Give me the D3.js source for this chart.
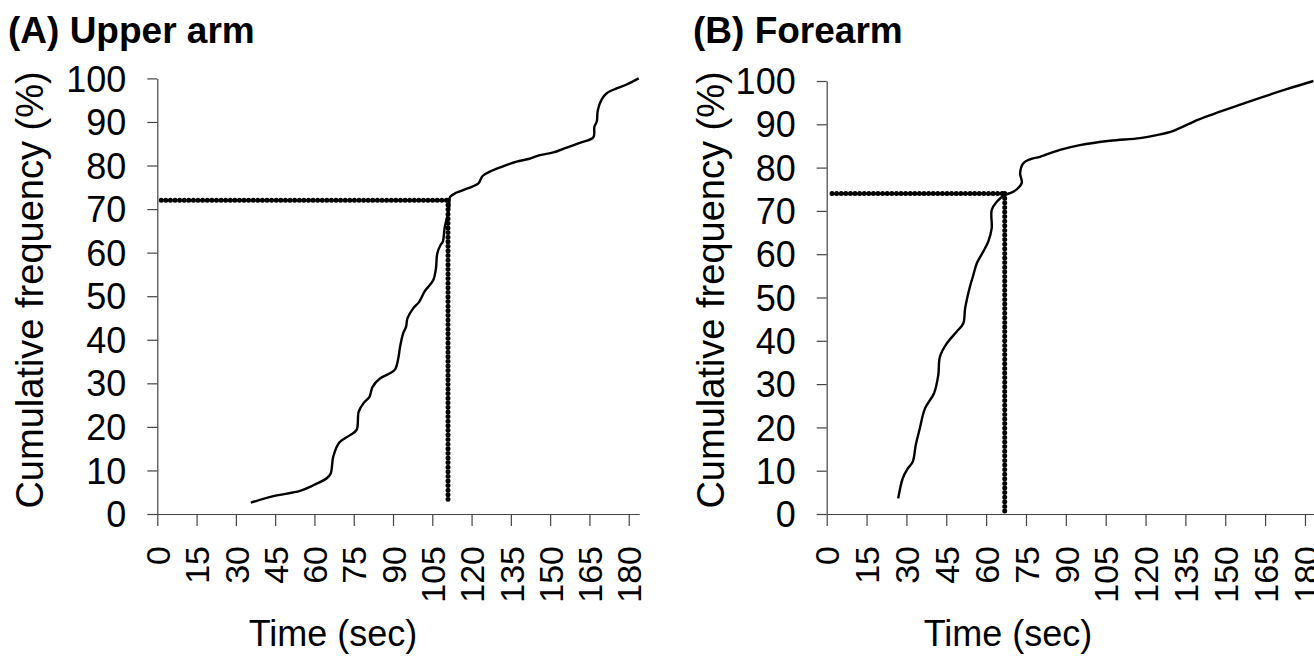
<!DOCTYPE html>
<html>
<head>
<meta charset="utf-8">
<script src="https://cdn.jsdelivr.net/npm/d3@7"></script>
<style>
  body { margin: 0; background: #fff; }
  svg { display: block; font-family: "Liberation Sans", Arial, sans-serif; }
</style>
</head>
<body>
<div id="chart"></div>
<script>
const width = 1314;
const height = 656;

// x ticks shared by both panels (seconds)
const xTicks = [0, 15, 30, 45, 60, 75, 90, 105, 120, 135, 150, 165, 180];
const yTicks = [0, 10, 20, 30, 40, 50, 60, 70, 80, 90, 100];

// (A) upper arm: cumulative frequency curve
const upperTime = [35.7, 44.3, 54.5, 59.6, 64.7, 66.2, 67.2, 69.5, 73.6, 76.1, 76.9, 78.7, 81.0, 82.2, 85.0, 88.8, 90.8, 92.0, 92.7, 93.9, 95.0, 95.5, 97.7, 100.0, 102.2, 105.4, 106.4, 106.9, 108.2, 109.0, 109.8, 110.9, 111.5, 111.8, 114.3, 118.7, 122.6, 124.2, 127.0, 131.5, 137.2, 141.7, 146.1, 151.2, 155.7, 161.4, 166.5, 166.9, 167.8, 168.2, 169.7, 171.6, 175.4, 179.2, 183.8];
const upperPct = [2.6, 4.1, 5.3, 6.6, 8.2, 9.3, 13.2, 16.4, 18.1, 19.3, 23.5, 25.4, 26.9, 29.2, 31.1, 32.3, 33.2, 35.7, 38.4, 41.5, 43.0, 44.9, 47.2, 48.7, 51.2, 53.7, 56.4, 59.8, 61.8, 62.5, 66.0, 68.6, 70.5, 72.8, 73.8, 74.8, 75.9, 77.6, 78.6, 79.7, 80.9, 81.5, 82.4, 83.0, 84.0, 85.2, 86.5, 88.9, 90.1, 92.7, 95.2, 96.6, 97.7, 98.6, 100];

// (B) forearm
const foreTime = [26.9, 28.6, 30.3, 32.4, 33.5, 34.9, 37.0, 40.4, 42.0, 42.6, 45.2, 48.9, 51.4, 52.1, 53.9, 55.2, 56.5, 58.9, 60.8, 62.1, 62.1, 64.0, 67.1, 70.2, 73.4, 72.8, 74.0, 76.5, 80.3, 87.8, 95.3, 106.6, 117.9, 124.2, 130.5, 139.9, 148.0, 160.6, 173.1, 183.2];
const forePct = [3.6, 8.2, 10.3, 12.1, 15.9, 19.4, 24.4, 27.9, 32.1, 36.3, 39.4, 42.1, 44.0, 47.5, 52.5, 55.2, 57.9, 60.6, 62.9, 66.0, 70.2, 72.1, 73.7, 74.4, 76.4, 78.7, 81.0, 81.9, 82.5, 84.1, 85.2, 86.2, 86.8, 87.5, 88.5, 91.1, 92.9, 95.6, 98.1, 100];

// dotted reference lines: [start time, cut time] and [cut pct, bottom pct]
const upperCutTime = [1.5, 111];
const upperCutPct = [72, 2.6];
const foreCutTime = [2, 67];
const foreCutPct = [74, 0];

const panels = [
  {title: "(A) Upper arm", time: upperTime, pct: upperPct, cutTime: upperCutTime, cutPct: upperCutPct,
   x0: 157.3, x1: 639.2, yTop: 78.4, yBot: 514, titleX: 8, yTitleX: 43, xTitleX: 333},
  {title: "(B) Forearm", time: foreTime, pct: forePct, cutTime: foreCutTime, cutPct: foreCutPct,
   x0: 826.7, x1: 1315.6, yTop: 81, yBot: 514, titleX: 693, yTitleX: 724, xTitleX: 1008}
];

const svg = d3.select("#chart")
  .append("svg")
  .attr("width", width)
  .attr("height", height);

panels.forEach(p => {
  const x = d3.scaleLinear().domain([0, 184]).range([p.x0, p.x1]);
  const y = d3.scaleLinear().domain([0, 100]).range([p.yBot, p.yTop]);
  const g = svg.append("g");

  // y axis
  const yAxis = g.append("g")
    .attr("transform", `translate(${p.x0},0)`)
    .call(d3.axisLeft(y).tickValues(yTicks).tickSize(10).tickSizeOuter(0).tickPadding(21));
  yAxis.selectAll("text")
    .style("font-size", "36px")
    .attr("dy", "0.35em")
    .attr("fill", "#000");

  // x axis with rotated labels
  const xAxis = g.append("g")
    .attr("transform", `translate(0,${p.yBot})`)
    .call(d3.axisBottom(x).tickValues(xTicks).tickSize(12).tickSizeOuter(0));
  xAxis.selectAll("text")
    .attr("transform", "rotate(-90)")
    .attr("x", -32)
    .attr("y", 0)
    .attr("dy", "0.36em")
    .style("text-anchor", "end")
    .style("font-size", "34px")
    .attr("fill", "#000");

  g.selectAll(".domain, .tick line")
    .attr("stroke", "#444")
    .attr("stroke-width", 1.2);

  // dotted guide lines
  const dotStyle = sel => sel
    .attr("stroke", "#000")
    .attr("stroke-width", 5)
    .attr("stroke-linecap", "round")
    .attr("stroke-dasharray", "0,4.6");

  g.append("line")
    .attr("x1", x(p.cutTime[0])).attr("x2", x(p.cutTime[1]))
    .attr("y1", y(p.cutPct[0])).attr("y2", y(p.cutPct[0]))
    .call(dotStyle);
  g.append("line")
    .attr("x1", x(p.cutTime[1])).attr("x2", x(p.cutTime[1]))
    .attr("y1", y(p.cutPct[0])).attr("y2", y(p.cutPct[1]))
    .call(dotStyle);

  // the curve
  const line = d3.line()
    .x((d, i) => x(p.time[i]))
    .y((d, i) => y(p.pct[i]))
    .curve(d3.curveCatmullRom.alpha(0.5));

  g.append("path")
    .datum(p.time)
    .attr("d", line)
    .attr("fill", "none")
    .attr("stroke", "#000")
    .attr("stroke-width", 2.4)
    .attr("stroke-linejoin", "round");

  // titles
  g.append("text")
    .attr("x", p.titleX)
    .attr("y", 43)
    .style("font-size", "37px")
    .style("font-weight", "bold")
    .text(p.title);

  g.append("text")
    .attr("transform", `translate(${p.yTitleX},290) rotate(-90)`)
    .style("text-anchor", "middle")
    .style("font-size", "38px")
    .text("Cumulative frequency (%)");

  g.append("text")
    .attr("x", p.xTitleX)
    .attr("y", 646)
    .style("text-anchor", "middle")
    .style("font-size", "36px")
    .text("Time (sec)");
});
</script>
</body>
</html>
